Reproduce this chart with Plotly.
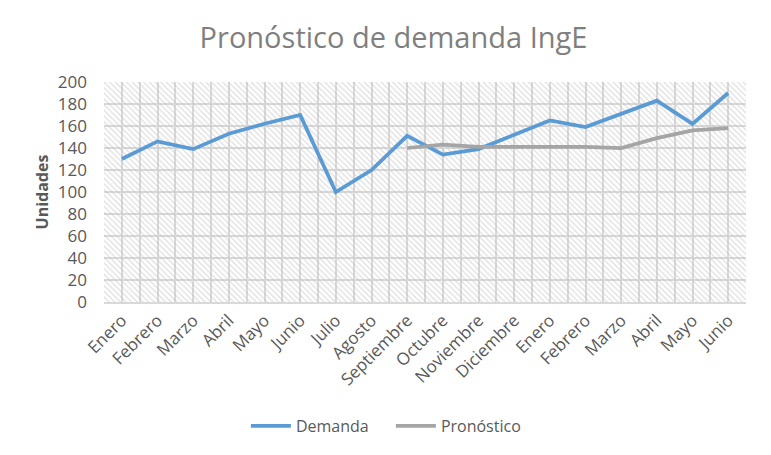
import plotly.graph_objects as go

meses = ["Enero", "Febrero", "Marzo", "Abril", "Mayo", "Junio", "Julio", "Agosto",
         "Septiembre", "Octubre", "Noviembre", "Diciembre", "Enero", "Febrero",
         "Marzo", "Abril", "Mayo", "Junio"]
demanda = [130, 146, 139, 153, 162, 170, 100, 120, 151, 134, 139, 152, 165, 159,
           171, 183, 162, 190]
pronostico = [None, None, None, None, None, None, None, None, 140, 143, 141, 141,
              141, 141, 140, 149, 156, 158]
y_ticks = list(range(0, 201, 20))

x = list(range(len(meses)))
y_max = y_ticks[-1]
gray_txt = "#595959"
clear = "rgba(0,0,0,0)"

fig = go.Figure()

# hatched plot-area background (Excel style pattern fill), transparent so grid shows
fig.add_trace(go.Bar(
    x=x, y=[y_max] * len(x), width=1,
    marker=dict(color=clear, line=dict(width=0),
                pattern=dict(shape="\\", size=4, solidity=0.3,
                             fgcolor="#bdbdbd", bgcolor=clear)),
    hoverinfo="skip", showlegend=False,
))

fig.add_trace(go.Scatter(x=x, y=demanda, mode="lines", name="Demanda",
                         line=dict(color="#5b9bd5", width=3.75)))
fig.add_trace(go.Scatter(x=x, y=pronostico, mode="lines", name="Pronóstico",
                         line=dict(color="#a5a5a5", width=3.75)))

# page body has an 8px default margin, so margins are offset by that
fig.update_layout(
    width=771, height=455,
    margin=dict(l=96, r=33, t=74, b=161, autoexpand=False),
    paper_bgcolor="white", plot_bgcolor="white",
    font=dict(family="Open Sans", color=gray_txt, size=17),
    title=dict(text="Pronóstico de demanda IngE", x=0.5, xanchor="center",
               y=0.934, yanchor="middle",
               font=dict(family="Open Sans", size=29, color="#7f7f7f")),
    bargap=0,
    legend=dict(orientation="h", x=0.221, xanchor="left", y=-0.563,
                yanchor="middle", font=dict(size=16, color=gray_txt),
                itemwidth=40, entrywidth=90),
)

fig.update_xaxes(
    range=[-0.5, len(x) - 0.5], automargin=False,
    tickmode="array", tickvals=x, ticktext=meses, tickangle=-45,
    showgrid=True, gridcolor="#d9d9d9", gridwidth=1.5,
    minor=dict(tickmode="linear", tick0=-0.5, dtick=1, showgrid=True,
               gridcolor="#d9d9d9", gridwidth=1.5),
    showline=True, linecolor="#d9d9d9", linewidth=1.5,
    zeroline=False, ticks="", tickfont=dict(size=17, color=gray_txt),
)
fig.update_yaxes(
    range=[0, y_max], tickvals=y_ticks, automargin=False,
    showgrid=True, gridcolor="#d9d9d9", gridwidth=1.5,
    zeroline=False, ticks="", ticklabelstandoff=16,
    tickfont=dict(size=17, color=gray_txt),
    title=dict(text="<b>Unidades</b>", font=dict(size=16, color=gray_txt),
               standoff=5),
)

fig.write_html("out.html")
